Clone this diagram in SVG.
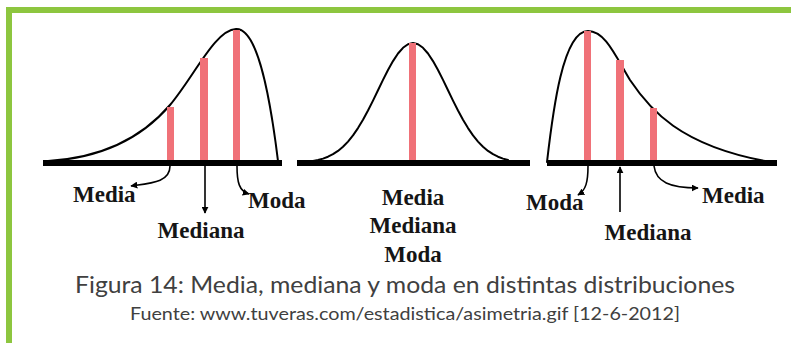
<svg xmlns="http://www.w3.org/2000/svg" width="791" height="343" viewBox="0 0 791 343">
<style>
.frame{fill:#8DC63F}
.base{fill:#000}
.curve{fill:none;stroke:#000;stroke-width:2;stroke-linejoin:round;stroke-linecap:round}
.bar{fill:#F07178}
.lbl{font-family:"Liberation Serif","Times New Roman",serif;font-weight:bold;font-size:23px;fill:#151515}
.conn{fill:none;stroke:#000;stroke-width:1.6}
.cap{font-family:Lato,"Open Sans",sans-serif;fill:#404040}
</style>
<defs>
<marker id="ah" viewBox="0 0 10 10" refX="9" refY="5" markerWidth="7" markerHeight="7" markerUnits="userSpaceOnUse" orient="auto">
<path d="M0,0 L10,5 L0,10 Z" fill="#000"/>
</marker>
</defs>
<rect width="791" height="343" fill="#fff"/>
<g id="frame">
<rect class="frame" x="6" y="7" width="785" height="6"/>
<rect class="frame" x="6" y="7" width="6" height="336"/>
</g>
<g id="dist-left">
<path class="curve" d="M48 161 C100 158,140 140,170 105 C195 75,215 30,236 29 C255 28,268 80,278 161"/>
<rect class="bar" x="167" y="107" width="7" height="55"/>
<rect class="bar" x="200" y="58" width="8" height="104"/>
<rect class="bar" x="233" y="30" width="7" height="132"/>
<rect class="base" x="43" y="160" width="239" height="6"/>
</g>
<g id="dist-middle">
<polyline class="curve" points="313,161 318,160 323,158.6 328,156.7 333,154.2 338,150.9 343,146.8 348,141.6 353,135.4 358,128.1 363,119.8 368,110.5 373,100.6 378,90.2 383,79.9 388,70 393,61.1 398,53.5 403,47.8 408,44.2 413,43 418,44.2 423,47.8 428,53.5 433,61.1 438,70 443,79.9 448,90.2 453,100.6 458,110.5 463,119.8 468,128.1 473,135.4 478,141.6 483,146.8 488,150.9 493,154.2 498,156.7 503,158.6 508,160 513,161"/>
<rect class="bar" x="409" y="43" width="7" height="119"/>
<rect class="base" x="297" y="160" width="233" height="6"/>
</g>
<g id="dist-right">
<path class="curve" d="M547 162 C553 110,563 31,588 31 C605 31,615 55,630 80 C650 110,680 145,765 161"/>
<rect class="bar" x="584" y="31" width="7" height="131"/>
<rect class="bar" x="616" y="60" width="8" height="102"/>
<rect class="bar" x="650" y="108" width="7" height="54"/>
<rect class="base" x="547" y="160" width="230" height="6"/>
</g>
<g id="connectors">
<path class="conn" d="M170 166 C170 182,152 183,131 186" marker-end="url(#ah)"/>
<path class="conn" d="M205 166 L205 213" marker-end="url(#ah)"/>
<path class="conn" d="M237 166 C237 182,239 191,249 194" marker-end="url(#ah)"/>
<path class="conn" d="M588 166 C588 182,586 190,578 195" marker-end="url(#ah)"/>
<path class="conn" d="M620 212 L620 167" marker-end="url(#ah)"/>
<path class="conn" d="M654 166 C656 182,670 188,698 188" marker-end="url(#ah)"/>
</g>
<g id="label-left-media"><text class="lbl" x="73" y="202">Media</text></g>
<g id="label-left-mediana"><text class="lbl" x="201" y="238" text-anchor="middle">Mediana</text></g>
<g id="label-left-moda"><text class="lbl" x="248" y="208">Moda</text></g>
<g id="label-middle">
<text class="lbl" x="413" y="205" text-anchor="middle">Media</text>
<text class="lbl" x="413" y="233" text-anchor="middle">Mediana</text>
<text class="lbl" x="413" y="262" text-anchor="middle">Moda</text>
</g>
<g id="label-right-moda"><text class="lbl" x="526" y="210">Moda</text></g>
<g id="label-right-mediana"><text class="lbl" x="648" y="240" text-anchor="middle">Mediana</text></g>
<g id="label-right-media"><text class="lbl" x="702" y="203">Media</text></g>
<g id="caption">
<text class="cap" x="75" y="293" font-size="23" textLength="660" lengthAdjust="spacingAndGlyphs">Figura 14: Media, mediana y moda en distintas distribuciones</text>
<text class="cap" x="130" y="320" font-size="18" textLength="550" lengthAdjust="spacingAndGlyphs">Fuente: www.tuveras.com/estadistica/asimetria.gif [12-6-2012]</text>
</g>
</svg>
